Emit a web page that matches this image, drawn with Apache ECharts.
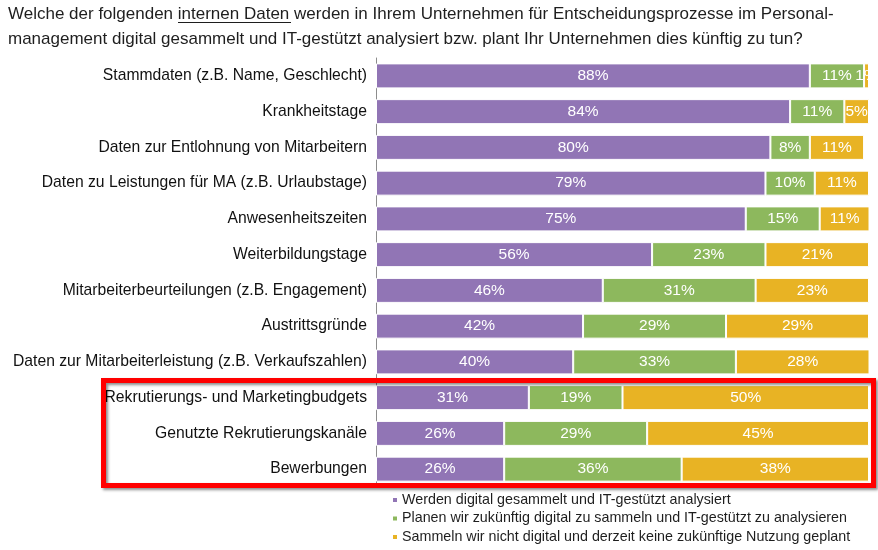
<!DOCTYPE html>
<html>
<head>
<meta charset="utf-8">
<script src="https://cdn.jsdelivr.net/npm/echarts@6/dist/echarts.min.js"></script>
<style>
  html, body { margin: 0; padding: 0; background: #fff; }
  #main { width: 878px; height: 550px; }
</style>
</head>
<body>
<div id="main"></div>
<script>
// Kategorien (von oben nach unten)
var kategorien = [
    'Stammdaten (z.B. Name, Geschlecht)',
    'Krankheitstage',
    'Daten zur Entlohnung von Mitarbeitern',
    'Daten zu Leistungen für MA (z.B. Urlaubstage)',
    'Anwesenheitszeiten',
    'Weiterbildungstage',
    'Mitarbeiterbeurteilungen (z.B. Engagement)',
    'Austrittsgründe',
    'Daten zur Mitarbeiterleistung (z.B. Verkaufszahlen)',
    'Rekrutierungs- und Marketingbudgets',
    'Genutzte Rekrutierungskanäle',
    'Bewerbungen'
];

var legendeNamen = [
    'Werden digital gesammelt und IT-gestützt analysiert',
    'Planen wir zukünftig digital zu sammeln und IT-gestützt zu analysieren',
    'Sammeln wir nicht digital und derzeit keine zukünftige Nutzung geplant'
];

var gesammelt = [88, 84, 80, 79, 75, 56, 46, 42, 40, 31, 26, 26];
var geplant = [11, 11, 8, 10, 15, 23, 31, 29, 33, 19, 29, 36];
var keineNutzung = [1, 5, 11, 11, 11, 21, 23, 29, 28, 50, 45, 38];

var farben = ['#9175b5', '#8db85d', '#e8b324'];
var schrift = '"Liberation Sans", Arial, sans-serif';

function serie(name, werte, farbe) {
    return {
        name: name,
        type: 'bar',
        stack: 'gesamt',
        barWidth: 25,
        data: werte,
        itemStyle: { color: farbe, borderColor: '#fff', borderWidth: 1 },
        label: {
            show: true,
            position: 'inside',
            formatter: '{c}%',
            color: '#fff',
            fontSize: 15.5,
            fontFamily: schrift
        }
    };
}

var myChart = echarts.init(document.getElementById('main'));
myChart.setOption({
    animation: false,
    textStyle: { fontFamily: schrift },
    title: {
        text: 'Welche der folgenden internen Daten werden in Ihrem Unternehmen für Entscheidungsprozesse im Personal-\nmanagement digital gesammelt und IT-gestützt analysiert bzw. plant Ihr Unternehmen dies künftig zu tun?',
        left: 8,
        top: 2,
        padding: 0,
        textStyle: {
            fontSize: 17,
            fontWeight: 'normal',
            color: '#1e1e1e',
            lineHeight: 25,
            fontFamily: schrift
        }
    },
    legend: {
        orient: 'vertical',
        left: 391,
        top: 491,
        padding: 0,
        itemWidth: 6,
        itemHeight: 6,
        itemGap: 0.5,
        icon: 'rect',
        data: legendeNamen,
        textStyle: {
            fontSize: 14.3,
            color: '#1e1e1e',
            lineHeight: 18,
            padding: [0, 0, 0, -1],
            fontFamily: schrift
        }
    },
    grid: {
        left: 376,
        top: 58,
        width: 493,
        height: 429
    },
    xAxis: {
        type: 'value',
        min: 0,
        max: 100,
        show: false
    },
    yAxis: {
        type: 'category',
        inverse: true,
        data: kategorien,
        axisLine: { show: true, lineStyle: { color: '#8c8c8c', width: 1 } },
        axisTick: { show: false },
        axisLabel: {
            color: '#111',
            fontSize: 15.7,
            margin: 9,
            fontFamily: schrift
        }
    },
    series: [
        serie(legendeNamen[0], gesammelt, farben[0]),
        serie(legendeNamen[1], geplant, farben[1]),
        serie(legendeNamen[2], keineNutzung, farben[2])
    ],
    graphic: [
        {   // Unterstreichung "internen Daten"
            type: 'line',
            shape: { x1: 178, y1: 22.5, x2: 291, y2: 22.5 },
            style: { stroke: '#1e1e1e', lineWidth: 1 }
        },
        {   // roter Rahmen
            type: 'rect',
            shape: { x: 103.5, y: 380.5, width: 770, height: 105 },
            style: {
                fill: null,
                stroke: '#ff0000',
                lineWidth: 5,
                shadowColor: 'rgba(0,0,0,0.45)',
                shadowBlur: 3,
                shadowOffsetX: 2,
                shadowOffsetY: 2
            },
            z: 100
        }
    ]
});
</script>
</body>
</html>
